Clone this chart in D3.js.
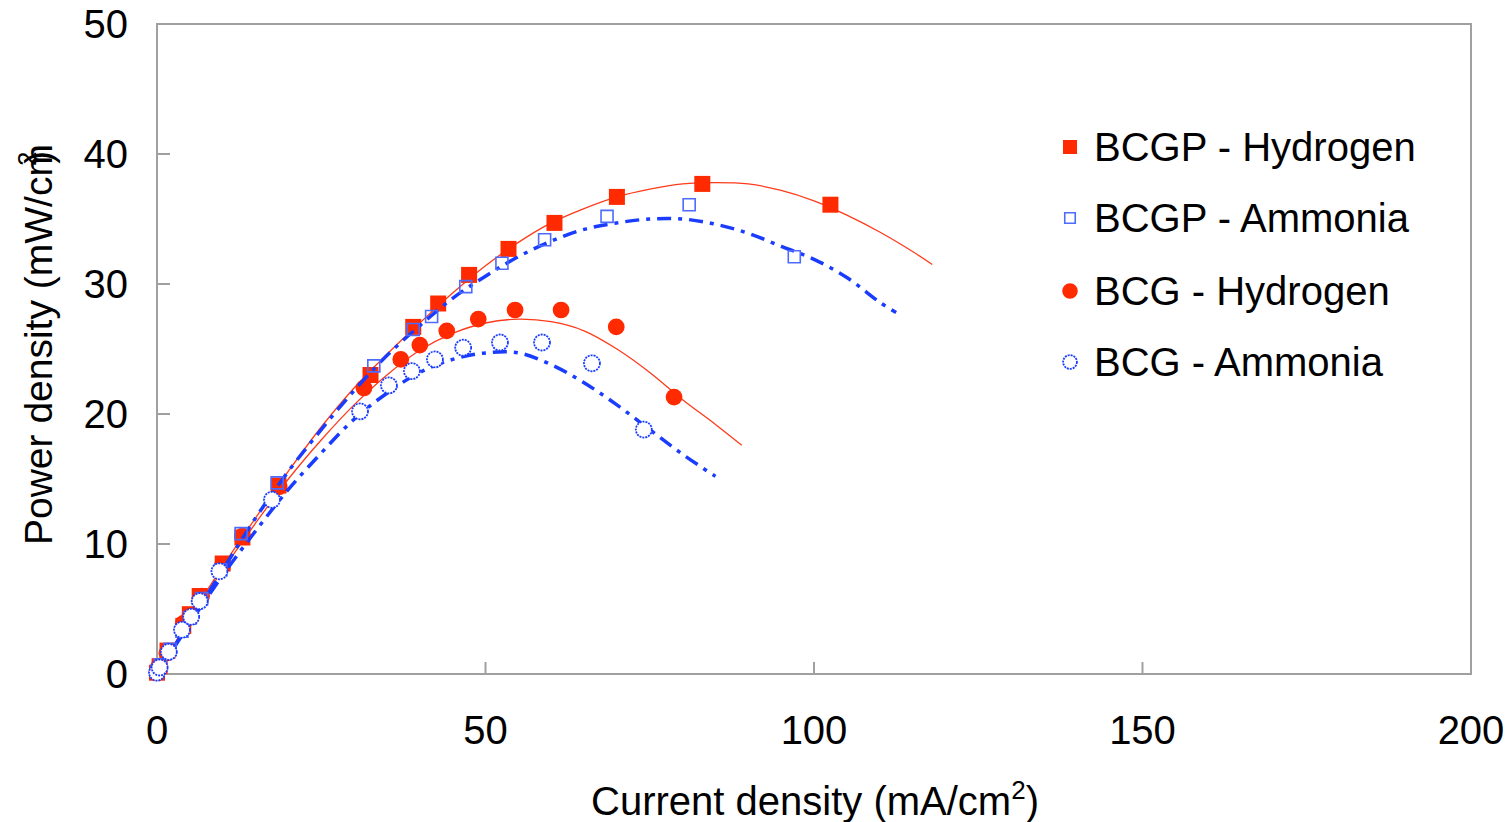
<!DOCTYPE html>
<html>
<head>
<meta charset="utf-8">
<script src="https://cdn.jsdelivr.net/npm/d3@7"></script>
<style>
  body { margin: 0; background: #fff; }
  text { font-family: "Liberation Sans", Arial, sans-serif; fill: #000; }
</style>
</head>
<body>
<div id="chart"></div>
<script>
// measured points (current density mA/cm2, power density mW/cm2)
const bcgpH2X = [0, 0.4, 1.6, 4, 5, 6.5, 10, 13, 18.5, 32.5, 39, 42.8, 47.5, 53.5, 60.5, 70, 83, 102.5];
const bcgpH2Y = [0.1, 0.6, 1.8, 3.7, 4.6, 6.0, 8.5, 10.5, 14.5, 23.0, 26.7, 28.5, 30.7, 32.7, 34.7, 36.7, 37.7, 36.1];

const bcgpNH3X = [0, 0.5, 2, 3.8, 5, 6.8, 9.7, 12.8, 18.3, 33, 39, 41.8, 47, 52.5, 59, 68.5, 81, 97];
const bcgpNH3Y = [0.2, 0.7, 1.9, 3.3, 4.3, 5.8, 8.0, 10.8, 14.7, 23.7, 26.5, 27.5, 29.8, 31.6, 33.4, 35.2, 36.1, 32.1];

const bcgH2X = [0, 0.3, 1.5, 4, 5, 6.8, 10, 13, 18.6, 31.5, 37.1, 40, 44.1, 48.9, 54.5, 61.5, 69.9, 78.7];
const bcgH2Y = [0.2, 0.6, 1.6, 3.9, 4.5, 6.0, 8.4, 10.6, 14.4, 22.0, 24.2, 25.3, 26.4, 27.3, 28.0, 28.0, 26.7, 21.3];

const bcgNH3X = [0, 0.4, 1.8, 3.8, 5.2, 6.5, 9.5, 17.5, 30.9, 35.3, 38.8, 42.3, 46.6, 52.2, 58.6, 66.2, 74.1];
const bcgNH3Y = [0.1, 0.5, 1.7, 3.4, 4.4, 5.6, 7.9, 13.4, 20.2, 22.2, 23.3, 24.2, 25.1, 25.5, 25.5, 23.9, 18.8];

// fitted curves
const fitBcgpH2X = [0, 5, 10, 15, 20, 25, 30, 35, 40, 45, 50, 55, 60, 65, 70, 75, 80, 85, 90, 95, 100, 105, 110, 115, 118];
const fitBcgpH2Y = [0, 4.3, 8.3, 12, 15.6, 19, 22, 24.6, 27, 29.3, 31.4, 33.2, 34.7, 35.8, 36.7, 37.3, 37.7, 37.8, 37.7, 37.2, 36.4, 35.3, 34.0, 32.5, 31.5];

const fitBcgH2X = [0, 5, 10, 15, 20, 25, 30, 35, 40, 45, 50, 55, 60, 65, 70, 75, 80, 85, 89];
const fitBcgH2Y = [0, 4.2, 8.0, 11.6, 15, 18, 20.7, 23, 24.9, 26.2, 27.0, 27.3, 27.1, 26.4, 25.0, 23.2, 21.1, 19.2, 17.6];

const fitBcgpNH3X = [0, 5, 10, 15, 20, 25, 30, 35, 40, 45, 50, 55, 60, 65, 70, 75, 80, 85, 90, 95, 100, 105, 110, 112.5];
const fitBcgpNH3Y = [0, 4.0, 8.0, 12, 15.6, 18.8, 21.8, 24.5, 26.8, 28.9, 30.6, 32.1, 33.3, 34.2, 34.7, 35.0, 35.0, 34.6, 33.9, 32.9, 31.9, 30.5, 28.6, 27.8];

const fitBcgNH3X = [0, 5, 10, 15, 20, 25, 30, 35, 40, 45, 50, 55, 60, 65, 70, 75, 80, 85];
const fitBcgNH3Y = [0, 3.9, 7.6, 11.0, 14.2, 17.0, 19.6, 21.6, 23.2, 24.2, 24.7, 24.7, 23.8, 22.4, 20.7, 18.8, 16.9, 15.2];

const xTicks = [0, 50, 100, 150, 200];
const yTicks = [0, 10, 20, 30, 40, 50];
const legendLabels = ["BCGP - Hydrogen", "BCGP - Ammonia", "BCG - Hydrogen", "BCG - Ammonia"];

const width = 1511, height = 822;
const RED = "#ff2a00", BLUE = "#1a3cff";

const svg = d3.select("#chart").append("svg")
  .attr("width", width).attr("height", height);

const x = d3.scaleLinear().domain([0, 200]).range([157, 1471]);
const y = d3.scaleLinear().domain([0, 50]).range([674, 24]);

const zip = (xs, ys) => xs.map((v, i) => [v, ys[i]]);

// plot frame
svg.append("rect")
  .attr("x", x(0)).attr("y", y(50))
  .attr("width", x(200) - x(0)).attr("height", y(0) - y(50))
  .attr("fill", "none").attr("stroke", "#a0a0a0").attr("stroke-width", 2);

// inner ticks
svg.append("g").selectAll("line").data(xTicks.slice(1, -1)).join("line")
  .attr("x1", d => x(d)).attr("x2", d => x(d))
  .attr("y1", y(0)).attr("y2", y(0) - 12)
  .attr("stroke", "#a0a0a0").attr("stroke-width", 2);
svg.append("g").selectAll("line").data(yTicks.slice(1, -1)).join("line")
  .attr("x1", x(0)).attr("x2", x(0) + 13)
  .attr("y1", d => y(d)).attr("y2", d => y(d))
  .attr("stroke", "#a0a0a0").attr("stroke-width", 2);

// tick labels
svg.append("g").selectAll("text").data(xTicks).join("text")
  .attr("x", d => x(d)).attr("y", 744)
  .attr("text-anchor", "middle").attr("font-size", 40)
  .text(d => d);
svg.append("g").selectAll("text").data(yTicks).join("text")
  .attr("x", 128).attr("y", d => y(d) + 14)
  .attr("text-anchor", "end").attr("font-size", 40)
  .text(d => d);

// axis titles
const xt = svg.append("text")
  .attr("x", 815).attr("y", 815)
  .attr("text-anchor", "middle").attr("font-size", 40);
xt.append("tspan").text("Current density (mA/cm");
xt.append("tspan").attr("dy", -16).attr("font-size", 26).text("2");
xt.append("tspan").attr("dy", 16).text(")");

const yt = svg.append("text")
  .attr("transform", "translate(52,545) rotate(-90)")
  .attr("text-anchor", "start").attr("font-size", 39);
yt.append("tspan").text("Power density (mW/cm");
yt.append("tspan").attr("dx", -22).attr("dy", -16).attr("font-size", 26).text("2");
yt.append("tspan").attr("dx", -12).attr("dy", 16).text(")");

const line = d3.line().x(d => x(d[0])).y(d => y(d[1])).curve(d3.curveCatmullRom);

// red fit lines
[zip(fitBcgpH2X, fitBcgpH2Y), zip(fitBcgH2X, fitBcgH2Y)].forEach(pts => {
  svg.append("path").attr("d", line(pts))
    .attr("fill", "none").attr("stroke", "#ff3a1a").attr("stroke-width", 1.3);
});

const sym = (type, size) => d3.symbol().type(type).size(size)();

// red markers
svg.append("g").selectAll("path").data(zip(bcgpH2X, bcgpH2Y)).join("path")
  .attr("transform", d => `translate(${x(d[0])},${y(d[1])})`)
  .attr("d", sym(d3.symbolSquare, 256)).attr("fill", RED);
svg.append("g").selectAll("path").data(zip(bcgH2X, bcgH2Y)).join("path")
  .attr("transform", d => `translate(${x(d[0])},${y(d[1])})`)
  .attr("d", sym(d3.symbolCircle, 220)).attr("fill", RED);

// blue fit lines
[zip(fitBcgpNH3X, fitBcgpNH3Y), zip(fitBcgNH3X, fitBcgNH3Y)].forEach(pts => {
  svg.append("path").attr("d", line(pts))
    .attr("fill", "none").attr("stroke", BLUE).attr("stroke-width", 3.5)
    .attr("stroke-dasharray", "14,7,4,7");
});

// blue markers
svg.append("g").selectAll("path").data(zip(bcgpNH3X, bcgpNH3Y)).join("path")
  .attr("transform", d => `translate(${x(d[0])},${y(d[1])})`)
  .attr("d", sym(d3.symbolSquare, 144))
  .attr("fill", "none").attr("stroke", "#4d6bff").attr("stroke-width", 1.6);
svg.append("g").selectAll("path").data(zip(bcgNH3X, bcgNH3Y)).join("path")
  .attr("transform", d => `translate(${x(d[0])},${y(d[1])})`)
  .attr("d", sym(d3.symbolCircle, 200))
  .attr("fill", "#fff").attr("stroke", BLUE).attr("stroke-width", 1.8)
  .attr("stroke-dasharray", "2,1");

// legend
const legY = [147, 218, 291, 362];
const legSym = [
  g => g.attr("d", sym(d3.symbolSquare, 196)).attr("fill", RED),
  g => g.attr("d", sym(d3.symbolSquare, 110)).attr("fill", "none").attr("stroke", "#4d6bff").attr("stroke-width", 1.6),
  g => g.attr("d", sym(d3.symbolCircle, 190)).attr("fill", RED),
  g => g.attr("d", sym(d3.symbolCircle, 150)).attr("fill", "#fff").attr("stroke", BLUE).attr("stroke-width", 1.8).attr("stroke-dasharray", "2,1")
];
const leg = svg.append("g");
legendLabels.forEach((lab, i) => {
  leg.append("path").attr("transform", `translate(1070,${legY[i]})`).call(legSym[i]);
  leg.append("text").attr("x", 1094).attr("y", legY[i] + 14)
    .attr("font-size", 40).text(lab);
});
</script>
</body>
</html>
